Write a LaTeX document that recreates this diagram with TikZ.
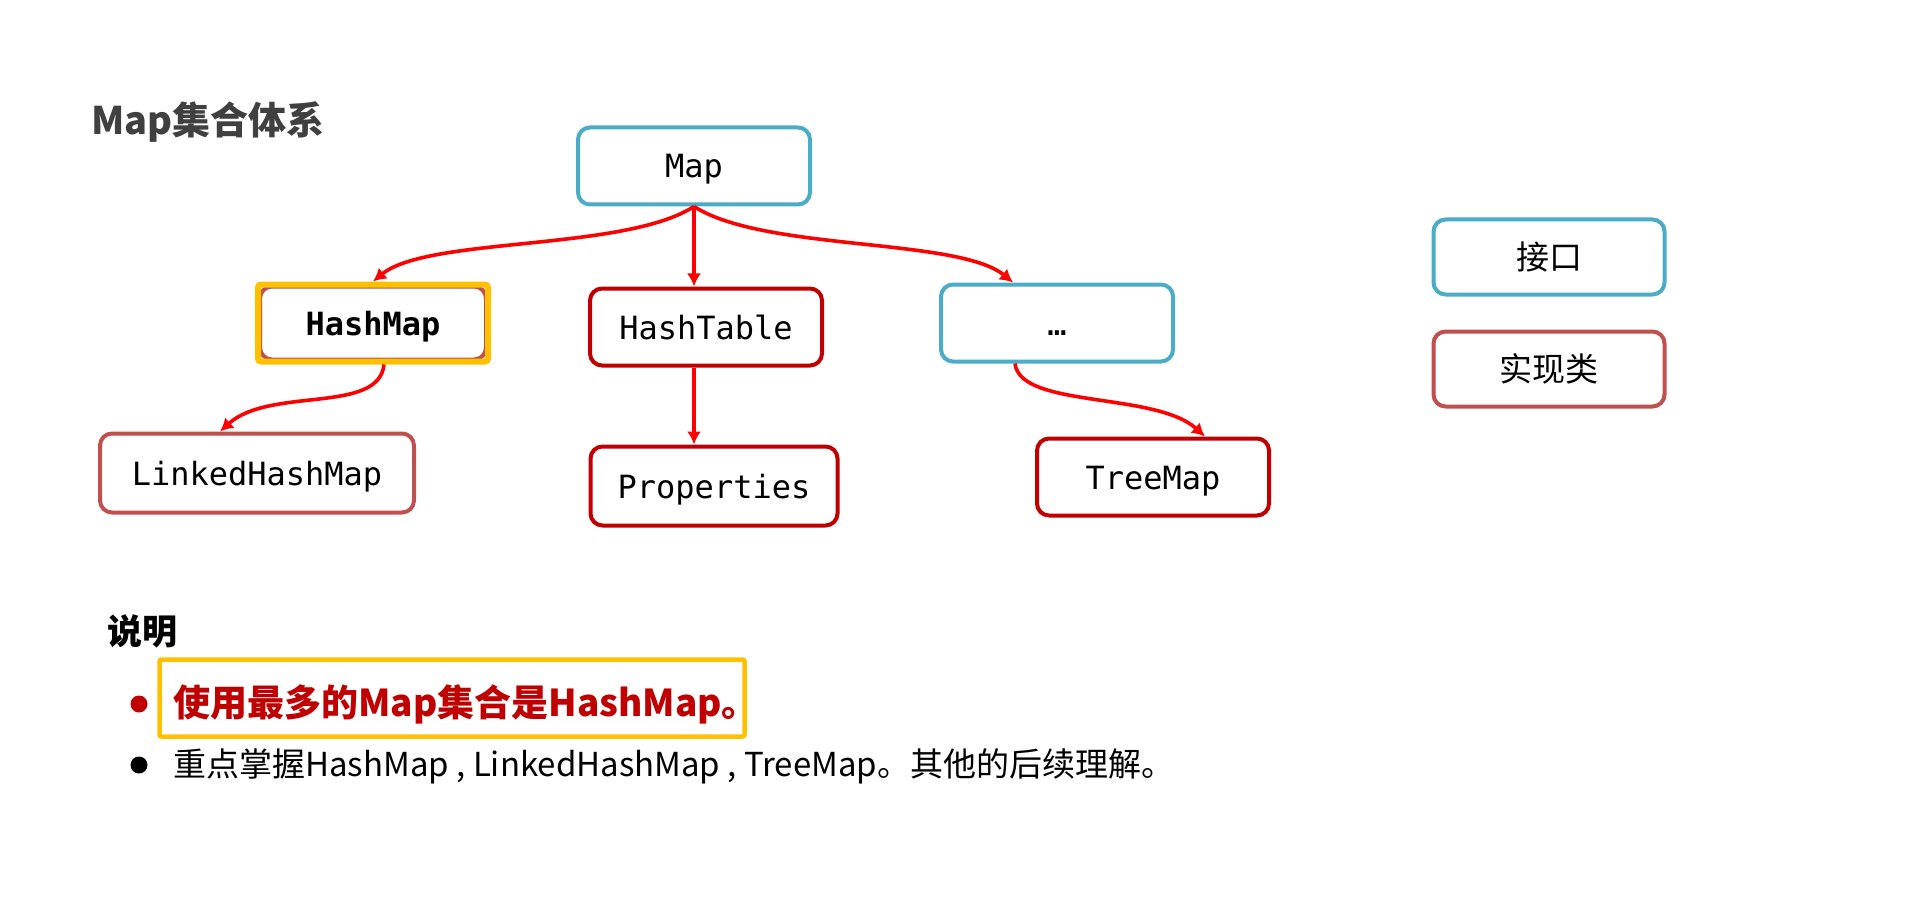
\documentclass[tikz,border=0pt]{standalone}
\usepackage{fontspec}
\setmainfont{Noto Sans CJK SC}
\newfontfamily\codefont{DejaVu Sans Mono}
\usepackage{xcolor}
\usetikzlibrary{positioning, arrows.meta, fit}

\definecolor{ifaceblue}{HTML}{4BACC6}
\definecolor{darkred}{HTML}{C00000}
\definecolor{softred}{HTML}{C0504D}
\definecolor{arrowred}{HTML}{FF0000}
\definecolor{hiyellow}{HTML}{FFC000}
\definecolor{titlegray}{HTML}{404040}

\begin{document}
\begin{tikzpicture}[
    x=1pt, y=1pt,
    box/.style={draw, line width=4pt, rounded corners=12pt, fill=white, minimum width=232pt, minimum height=77pt,
      font=\codefont\fontsize{32}{36}\selectfont, text height=32pt, text depth=8pt},
    iface/.style={box, draw=ifaceblue},
    impl/.style={box, draw=darkred},
    implsoft/.style={box, draw=softred},
    legend/.style={minimum width=231pt, minimum height=75pt, font=\fontsize{33}{38}\selectfont, text height=29pt, text depth=4pt},
    hilite/.style={draw=hiyellow, line width=6pt, rounded corners=3pt, inner sep=0pt},
    txt/.style={anchor=west, inner sep=0pt},
    dot/.style={circle, inner sep=0pt, minimum size=17pt},
    arr/.style={draw=arrowred, line width=3.6pt, -{Latex[length=13pt,width=14pt]}}
  ]
  \useasboundingbox (0,0) rectangle (1913,-917);

  \node[txt, text=titlegray, font=\bfseries\fontsize{38}{42}\selectfont] (title) at (91,-122) {Map集合体系};

  % tree
  \node[iface] (map) at (694,-166) {Map};
  \node[implsoft, minimum width=226pt, minimum height=73pt, font=\codefont\bfseries\fontsize{32}{36}\selectfont] (hashmap) at (373,-323) {HashMap};
  \node[hilite, fit=(hashmap)] (hashmapmark) {};
  \node[impl] (htable) at (706,-327) {HashTable};
  \node[iface] (more) at (1057,-323) {…};
  \node[implsoft, minimum width=314pt, minimum height=79pt] (linked) at (257,-473) {LinkedHashMap};
  \node[impl, minimum width=247pt, minimum height=79pt] (props) at (714,-486) {Properties};
  \node[impl] (tree) at (1153,-477) {TreeMap};

  % legend
  \node[iface, legend] (lgiface) at (1549,-257) {接口};
  \node[implsoft, legend, below=33pt of lgiface] (lgimpl) {实现类};

  \draw[arr] (map.south) .. controls +(-70,-45) and +(55,45) .. (hashmapmark.north);
  \draw[arr] (map.south) -- (map.south |- htable.north);
  \draw[arr] (map.south) .. controls +(70,-45) and +(-55,45) .. ([xshift=-44pt]more.north);
  \draw[arr] ([xshift=11pt]hashmapmark.south) .. controls +(-5,-50) and +(50,45) .. ([xshift=-37pt]linked.north);
  \draw[arr] (map.south |- htable.south) -- (map.south |- props.north);
  \draw[arr] ([xshift=-42pt]more.south) .. controls +(5,-45) and +(-50,45) .. ([xshift=52pt]tree.north);

  % notes
  \node[txt, font=\bfseries\fontsize{35}{40}\selectfont] (note) at (107,-631) {说明};
  \node[dot, fill=darkred] (bulleta) at (139,-704) {};
  \node[txt, text=darkred, font=\bfseries\fontsize{37}{42}\selectfont] (linea) at (173,-704) {使用最多的Map集合是HashMap。};
  \node[draw=hiyellow, line width=4.5pt, rounded corners=2pt, minimum width=585pt, minimum height=77pt] (lineamark) at (452,-698) {};
  \node[dot, fill=black] (bulletb) at (139,-765) {};
  \node[txt, font=\fontsize{33}{37}\selectfont] (lineb) at (173,-766) {重点掌握HashMap , LinkedHashMap , TreeMap。其他的后续理解。};
\end{tikzpicture}
\end{document}
